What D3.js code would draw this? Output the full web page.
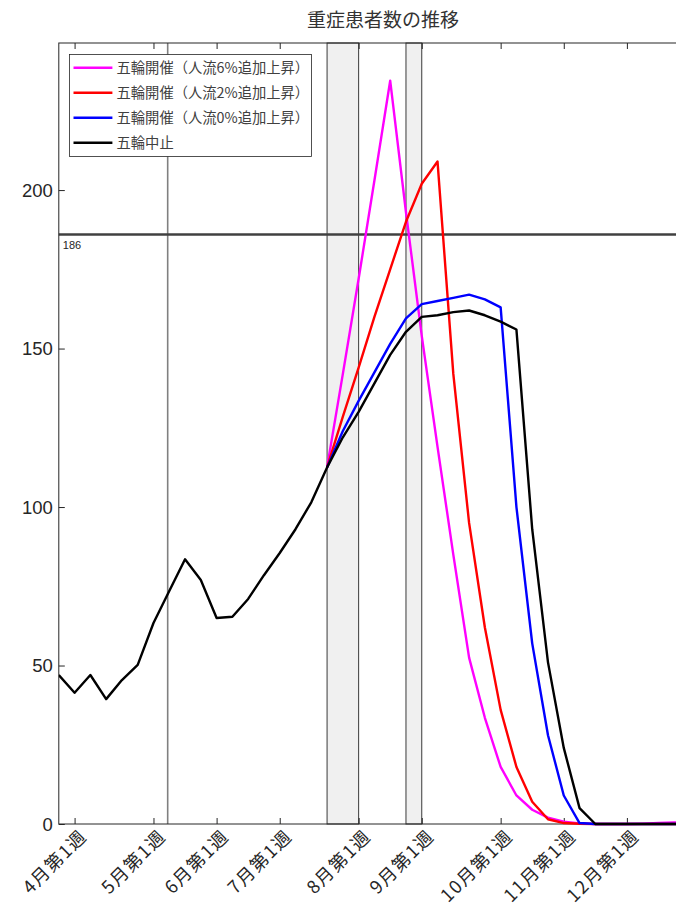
<!DOCTYPE html>
<html>
<head>
<meta charset="utf-8">
<script src="https://cdn.jsdelivr.net/npm/d3@7"></script>
<style>
  html, body { margin: 0; padding: 0; background: #fff; }
  svg { display: block; }
</style>
</head>
<body>
<svg id="chart" width="676" height="912"></svg>
<script>
// ---------------- data ----------------
const title = "重症患者数の推移";
const weekIndex = d3.range(0, 42); // week 0 = week before 4月第1週
const tickWeeks = [1, 6, 10, 14, 19, 23, 28, 32, 36];
const tickLabels = ["4月第1週", "5月第1週", "6月第1週", "7月第1週", "8月第1週", "9月第1週", "10月第1週", "11月第1週", "12月第1週"];
const yTicks = [0, 50, 100, 150, 200];
const threshold = 186;
const markerWeek = 6.9;               // vertical reference line
const bands = [[17, 19], [22, 23]];   // 五輪 / パラ periods (week index)

const seriesNames = ["五輪開催（人流6%追加上昇）", "五輪開催（人流2%追加上昇）", "五輪開催（人流0%追加上昇）", "五輪中止"];
const seriesColors = ["#ff00ff", "#ff0000", "#0000ff", "#000000"];

// 五輪中止 (full history)
const cancelled = [47, 41.4, 47, 39.4, 45.4, 50.2, 63.4, 73.5, 83.5, 77,
  65, 65.4, 71, 78.5, 85.5, 93, 101.5, 112.5, 122, 130,
  139, 148, 155.3, 160, 160.5, 161.5, 162, 160.5, 158.5, 156,
  93, 51, 24, 5, 0, 0, 0, 0, 0, 0, 0, 0];
// scenarios start at week 17
const scenarioStart = 17;
const flow6 = [112.5, 142, 172, 203, 234.5, 193, 154, 119, 85, 52.5,
  33.5, 18, 9, 4.5, 2, 0.7, 0.2, 0, 0, 0, 0.1, 0.3, 0.5, 0.7, 0.9];
const flow2 = [112.5, 128.5, 144, 160, 175, 190, 202, 209, 142, 95,
  62, 36, 18, 7, 1.5, 0.3, 0.1, 0, 0, 0, 0, 0, 0, 0, 0];
const flow0 = [112.5, 124, 133.5, 142.5, 151.5, 159.5, 164, 165, 166, 167,
  165.5, 163, 100, 57, 28, 9, 0.3, 0, 0, 0, 0, 0, 0, 0, 0];

// ---------------- layout ----------------
const svg = d3.select("#chart");
const mLeft = 58.8, mTop = 43, mBottom = 824, mRight = 705.8;
const cjk = '"Noto Sans CJK JP", "Noto Sans", sans-serif';
const latin = '"Liberation Sans", Arial, sans-serif';

const x = d3.scaleLinear().domain([0, 41]).range([mLeft, mRight]);
const y = d3.scaleLinear().domain([0, 246.4]).range([mBottom, mTop]);

svg.append("rect").attr("width", 676).attr("height", 912).attr("fill", "#fff");

// title
svg.append("text")
  .attr("x", 383).attr("y", 27)
  .attr("text-anchor", "middle")
  .style("font-family", cjk)
  .style("font-size", "19px")
  .attr("fill", "#333")
  .text(title);

// bands
svg.append("g").selectAll("rect").data(bands).join("rect")
  .attr("x", d => x(d[0]))
  .attr("width", d => x(d[1]) - x(d[0]))
  .attr("y", mTop).attr("height", mBottom - mTop)
  .attr("fill", "#f0f0f0")
  .attr("stroke", "#3a3a3a").attr("stroke-width", 1);

// vertical marker line
svg.append("line")
  .attr("x1", x(markerWeek)).attr("x2", x(markerWeek))
  .attr("y1", mTop).attr("y2", mBottom)
  .attr("stroke", "#808080").attr("stroke-width", 1.6);

// threshold line
svg.append("line")
  .attr("x1", mLeft).attr("x2", mRight)
  .attr("y1", y(threshold)).attr("y2", y(threshold))
  .attr("stroke", "#404040").attr("stroke-width", 2.6);
svg.append("text")
  .attr("x", mLeft + 4).attr("y", y(threshold) + 15)
  .style("font-family", latin).style("font-size", "11px")
  .attr("fill", "#262626")
  .text(threshold);

// axes box
const axisColor = "#262626";
svg.append("rect")
  .attr("x", mLeft).attr("y", mTop)
  .attr("width", mRight - mLeft).attr("height", mBottom - mTop)
  .attr("fill", "none").attr("stroke", axisColor).attr("stroke-width", 1);

// y axis (ticks inward)
const yAxis = d3.axisRight(y).tickValues(yTicks).tickSize(6).tickFormat(() => "");
const yg = svg.append("g").attr("transform", `translate(${mLeft},0)`).call(yAxis);
yg.select(".domain").remove();
yg.selectAll("line").attr("stroke", axisColor);
svg.append("g").selectAll("text").data(yTicks).join("text")
  .attr("x", mLeft - 6).attr("y", d => y(d))
  .attr("dy", "0.36em")
  .attr("text-anchor", "end")
  .style("font-family", latin).style("font-size", "18.5px")
  .attr("fill", axisColor)
  .text(d => d);

// x axis ticks (bottom, inward) and top
const xAxisB = d3.axisTop(x).tickValues(tickWeeks).tickSize(6).tickFormat(() => "");
const xb = svg.append("g").attr("transform", `translate(0,${mBottom})`).call(xAxisB);
xb.select(".domain").remove();
xb.selectAll("line").attr("stroke", axisColor);
const xAxisT = d3.axisBottom(x).tickValues(tickWeeks).tickSize(6).tickFormat(() => "");
const xt = svg.append("g").attr("transform", `translate(0,${mTop})`).call(xAxisT);
xt.select(".domain").remove();
xt.selectAll("line").attr("stroke", axisColor);

// x labels rotated
svg.append("g").selectAll("text").data(tickWeeks).join("text")
  .attr("transform", (d) => `translate(${x(d) + 9},${mBottom + 9}) rotate(-45)`)
  .attr("text-anchor", "end")
  .attr("dy", "0.35em")
  .style("font-family", cjk).style("font-size", "18px")
  .style("letter-spacing", "1.5px")
  .attr("fill", axisColor)
  .text((d, i) => tickLabels[i]);

// lines
const line = d3.line()
  .defined(d => d[1] != null)
  .x(d => x(d[0])).y(d => y(d[1]));

const scenarioData = [flow6, flow2, flow0].map(arr => arr.map((v, i) => [scenarioStart + i, v]));
const cancelledData = cancelled.map((v, i) => [weekIndex[i], v]);
const allData = [...scenarioData, cancelledData];

svg.append("clipPath").attr("id", "clip")
  .append("rect").attr("x", mLeft).attr("y", mTop).attr("width", mRight - mLeft).attr("height", mBottom - mTop + 2);

svg.append("g").attr("clip-path", "url(#clip)")
  .selectAll("path").data(allData).join("path")
  .attr("d", line)
  .attr("fill", "none")
  .attr("stroke", (d, i) => seriesColors[i])
  .attr("stroke-width", 2.4)
  .attr("stroke-linejoin", "round");

// legend
const lg = svg.append("g");
lg.append("rect")
  .attr("x", 69.5).attr("y", 54.5).attr("width", 242).attr("height", 102)
  .attr("fill", "#fff").attr("stroke", axisColor).attr("stroke-width", 0.8);
const items = lg.selectAll("g.item").data(seriesNames).join("g")
  .attr("class", "item")
  .attr("transform", (d, i) => `translate(0,${67.7 + i * 25})`);
items.append("line")
  .attr("x1", 73.5).attr("x2", 112.4).attr("y1", 0).attr("y2", 0)
  .attr("stroke", (d, i) => seriesColors[i]).attr("stroke-width", 2.4);
items.append("text")
  .attr("x", 116.5).attr("y", 0).attr("dy", "0.35em")
  .style("font-family", cjk).style("font-size", "14.3px")
  .attr("fill", "#404040")
  .text(d => d);
</script>
</body>
</html>
